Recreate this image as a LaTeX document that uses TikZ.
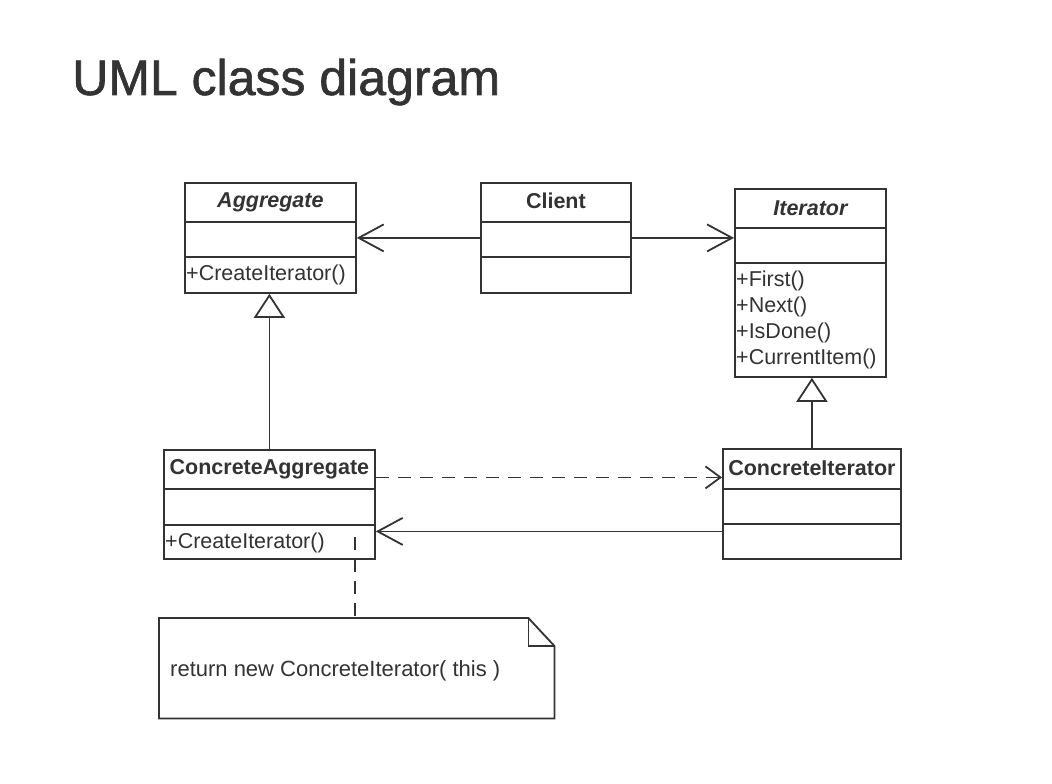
\documentclass[tikz,border=0pt]{standalone}
\usepackage{fontspec}
\setmainfont{Liberation Sans}
\newfontfamily\titlefont[FakeBold=1.2]{Liberation Sans}
\usetikzlibrary{arrows.meta}
\definecolor{ink}{HTML}{333333}
\definecolor{txt}{HTML}{333333}
\begin{document}
\begin{tikzpicture}[x=1pt,y=-1pt,
  cls/.style={draw=ink, line width=1.8pt, anchor=north west, inner sep=0pt},
  sep/.style={draw=ink, line width=1.8pt},
  nm/.style={font=\fontsize{21.5}{26}\selectfont\bfseries, text=txt, inner sep=0pt},
  nmi/.style={font=\fontsize{21.5}{26}\selectfont\bfseries\itshape, text=txt, inner sep=0pt},
  meth/.style={font=\fontsize{21.5}{26}\selectfont, text=txt, inner sep=0pt, anchor=base west},
  assoc/.style={draw=ink, line width=1.8pt, -{Straight Barb[length=25pt,width=27pt,line width=1.8pt]}},
  dep/.style={draw=ink, line width=1.8pt, dash pattern=on 13pt off 9pt, -{Straight Barb[length=15pt,width=22pt,line width=1.8pt]}},
  gen/.style={draw=ink, line width=1.8pt, -{Triangle[open,fill=white,length=24pt,width=31pt,line width=1.8pt]}},
  notebox/.style={draw=ink, line width=1.8pt, line join=miter}
]
\useasboundingbox[fill=white] (0,0) rectangle (1052,784);

% title
\node[anchor=base west, font=\titlefont\fontsize{50}{60}\selectfont, text=txt, inner sep=0pt] (title) at (72,95) {UML class diagram};

% Aggregate
\node[cls, minimum width=171pt, minimum height=110pt] (agg) at (184,182) {};
\draw[sep] ([yshift=-40pt]agg.north west) -- ([yshift=-40pt]agg.north east);
\draw[sep] ([yshift=-75pt]agg.north west) -- ([yshift=-75pt]agg.north east);
\node[nmi] (aggname) at ([yshift=-20pt]agg.north) {Aggregate};
\node[meth] (aggm) at ([xshift=2pt,yshift=-98pt]agg.north west) {+CreateIterator()};

% Client
\node[cls, minimum width=150pt, minimum height=110pt] (client) at (480,182) {};
\draw[sep] ([yshift=-40pt]client.north west) -- ([yshift=-40pt]client.north east);
\draw[sep] ([yshift=-75pt]client.north west) -- ([yshift=-75pt]client.north east);
\node[nm] (clientname) at ([yshift=-19pt]client.north) {Client};

% Iterator
\node[cls, minimum width=151pt, minimum height=188pt] (it) at (734,188) {};
\draw[sep] ([yshift=-40pt]it.north west) -- ([yshift=-40pt]it.north east);
\draw[sep] ([yshift=-75pt]it.north west) -- ([yshift=-75pt]it.north east);
\node[nmi] (itname) at ([yshift=-20pt]it.north) {Iterator};
\node[meth] (itm1) at ([xshift=2pt,yshift=-98pt]it.north west) {+First()};
\node[meth] (itm2) at ([xshift=2pt,yshift=-124pt]it.north west) {+Next()};
\node[meth] (itm3) at ([xshift=2pt,yshift=-150pt]it.north west) {+IsDone()};
\node[meth] (itm4) at ([xshift=2pt,yshift=-176pt]it.north west) {+CurrentItem()};

% ConcreteAggregate
\node[cls, minimum width=211pt, minimum height=109pt] (ca) at (163,449) {};
\draw[sep] ([yshift=-40pt]ca.north west) -- ([yshift=-40pt]ca.north east);
\draw[sep] ([yshift=-76pt]ca.north west) -- ([yshift=-76pt]ca.north east);
\node[nm] (caname) at ([yshift=-20pt]ca.north) {ConcreteAggregate};
\node[meth] (cam) at ([xshift=2pt,yshift=-99pt]ca.north west) {+CreateIterator()};

% ConcreteIterator
\node[cls, minimum width=178pt, minimum height=110pt] (ci) at (722,448) {};
\draw[sep] ([yshift=-41pt]ci.north west) -- ([yshift=-41pt]ci.north east);
\draw[sep] ([yshift=-76pt]ci.north west) -- ([yshift=-76pt]ci.north east);
\node[nm] (ciname) at ([yshift=-20pt]ci.north) {ConcreteIterator};

% connectors
\draw[assoc] (client.west) -- (agg.east);
\draw[assoc] (client.east) -- (client.east -| it.west);
\draw[gen] (ca.north) -- (ca.north |- agg.south);
\draw[gen] (ci.north) -- (ci.north |- it.south);
\draw[dep] ([yshift=27pt]ca.east) -- ([yshift=27pt]ca.east -| ci.west);
\draw[assoc] ([yshift=-27.5pt]ci.west) -- ([yshift=-27.5pt]ci.west -| ca.east);

% note
\node[anchor=north west, minimum width=395pt, minimum height=100pt, inner sep=0pt] (note) at (159,618) {};
\draw[notebox] (note.north west) -- ([xshift=-26pt]note.north east) -- ([yshift=-28pt]note.north east) -- (note.south east) -- (note.south west) -- cycle;
\draw[notebox] ([xshift=-26pt]note.north east) -- ([xshift=-26pt,yshift=-28pt]note.north east) -- ([yshift=-28pt]note.north east);
\node[meth, font=\fontsize{22}{26}\selectfont] (notetext) at ([xshift=11pt,yshift=-8pt]note.west) {return new ConcreteIterator( this )};
\coordinate (nstart) at (355,537);
\draw[draw=ink, line width=1.8pt, dash pattern=on 13pt off 9pt] (nstart) -- (nstart |- note.north);
\end{tikzpicture}
\end{document}
